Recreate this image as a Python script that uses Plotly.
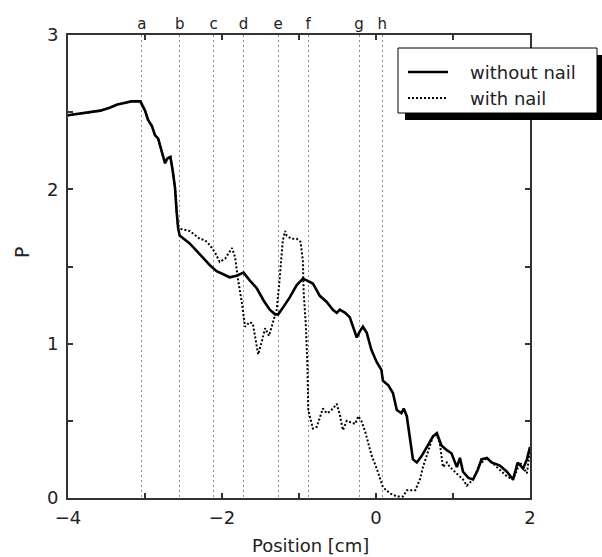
import plotly.graph_objects as go

# ---------------- data ----------------
shared_x = [-4.00, -3.84, -3.71, -3.58, -3.45, -3.36, -3.27, -3.18, -3.10, -3.06,
            -3.00, -2.96, -2.91, -2.87, -2.83, -2.78, -2.74, -2.71, -2.67, -2.64,
            -2.61, -2.59, -2.57]
shared_y = [2.48, 2.49, 2.50, 2.51, 2.53, 2.55, 2.56, 2.57, 2.57, 2.57,
            2.51, 2.45, 2.41, 2.35, 2.33, 2.25, 2.17, 2.20, 2.21, 2.12,
            2.01, 1.86, 1.75]

without_x = [-2.55, -2.42, -2.29, -2.16, -2.07, -1.98, -1.90, -1.81, -1.72, -1.64,
             -1.55, -1.46, -1.38, -1.31, -1.27, -1.20, -1.12, -1.03, -0.95, -0.90,
             -0.82, -0.73, -0.64, -0.56, -0.51, -0.47, -0.40, -0.34, -0.30, -0.25,
             -0.21, -0.17, -0.12, -0.06, 0.01, 0.07, 0.09, 0.16, 0.22, 0.27,
             0.33, 0.36, 0.40, 0.45, 0.48, 0.53, 0.59, 0.66, 0.74, 0.79,
             0.85, 0.92, 0.98, 1.05, 1.09, 1.13, 1.20, 1.26, 1.32, 1.37,
             1.44, 1.50, 1.61, 1.70, 1.78, 1.84, 1.91, 1.96, 2.00]
without_y = [1.70, 1.65, 1.58, 1.51, 1.47, 1.45, 1.43, 1.44, 1.46, 1.41,
             1.36, 1.28, 1.22, 1.19, 1.19, 1.24, 1.30, 1.38, 1.42, 1.41,
             1.39, 1.31, 1.27, 1.22, 1.20, 1.22, 1.20, 1.17, 1.11, 1.04,
             1.08, 1.11, 1.07, 0.96, 0.88, 0.83, 0.76, 0.73, 0.68, 0.57,
             0.55, 0.58, 0.53, 0.36, 0.25, 0.23, 0.27, 0.33, 0.40, 0.42,
             0.34, 0.31, 0.29, 0.20, 0.26, 0.17, 0.13, 0.12, 0.18, 0.25,
             0.26, 0.23, 0.21, 0.17, 0.12, 0.23, 0.19, 0.25, 0.33]

with_x = [-2.55, -2.42, -2.29, -2.22, -2.16, -2.09, -2.03, -1.96, -1.87, -1.83,
          -1.79, -1.74, -1.70, -1.64, -1.60, -1.55, -1.53, -1.48, -1.44, -1.39,
          -1.34, -1.29, -1.26, -1.23, -1.21, -1.18, -1.16, -1.10, -1.03, -0.98,
          -0.95, -0.94, -0.91, -0.89, -0.88, -0.86, -0.82, -0.77, -0.73, -0.69,
          -0.64, -0.60, -0.56, -0.51, -0.47, -0.43, -0.38, -0.32, -0.27, -0.23,
          -0.19, -0.14, -0.10, -0.06, 0.01, 0.05, 0.09, 0.18, 0.27, 0.35,
          0.40, 0.51, 0.57, 0.61, 0.68, 0.74, 0.79, 0.83, 0.87, 0.92,
          0.96, 1.13, 1.18, 1.26, 1.35, 1.44, 1.57, 1.70, 1.78, 1.87,
          1.96, 2.00]
with_y = [1.745, 1.73, 1.68, 1.67, 1.64, 1.59, 1.53, 1.55, 1.62, 1.56,
          1.41, 1.26, 1.11, 1.14, 1.13, 0.98, 0.93, 1.02, 1.10, 1.05,
          1.13, 1.22, 1.37, 1.56, 1.67, 1.73, 1.70, 1.68, 1.68, 1.66,
          1.54, 1.34, 1.11, 0.85, 0.57, 0.53, 0.45, 0.46, 0.52, 0.58,
          0.55, 0.56, 0.58, 0.61, 0.54, 0.44, 0.50, 0.49, 0.48, 0.53,
          0.50, 0.43, 0.36, 0.28, 0.19, 0.13, 0.07, 0.03, 0.01, 0.01,
          0.05, 0.05, 0.12, 0.20, 0.31, 0.40, 0.41, 0.35, 0.20, 0.23,
          0.20, 0.12, 0.08, 0.12, 0.22, 0.26, 0.20, 0.14, 0.12, 0.23,
          0.16, 0.31]

letters = ["a", "b", "c", "d", "e", "f", "g", "h"]
letter_pos = [-3.04, -2.55, -2.11, -1.72, -1.27, -0.88, -0.22, 0.08]

x_ticks = [-4, -3, -2, -1, 0, 1, 2]
x_ticktext = ["\u22124", "", "\u22122", "", "0", "", "2"]
y_ticks = [0, 0.5, 1, 1.5, 2, 2.5, 3]
y_ticktext = ["0", "", "1", "", "2", "", "3"]

series_names = ["without nail", "with nail"]

# ---------------- layout geometry (pixels) ----------------
W, H = 602, 557
L, R, T, B = 68, 530, 35, 498
FONT = "DejaVu Sans"
AX = "#333333"


def px(xp):
    return (xp - L) / (R - L)


def py(yp):
    return (B - yp) / (B - T)


fig = go.Figure()

fig.add_trace(go.Scatter(x=shared_x + with_x, y=shared_y + with_y, mode="lines",
                         line=dict(color="black", width=2, dash="2px,2px"),
                         name=series_names[1], showlegend=False))
fig.add_trace(go.Scatter(x=shared_x + without_x, y=shared_y + without_y, mode="lines",
                         line=dict(color="black", width=2.6),
                         name=series_names[0], showlegend=False))
# carrier for the letter axis
fig.add_trace(go.Scatter(x=letter_pos, y=[None] * len(letter_pos), xaxis="x2",
                         mode="lines", showlegend=False, hoverinfo="skip"))

fig.update_layout(
    width=W, height=H,
    margin=dict(l=L, r=W - R, t=T, b=H - B, pad=0),
    paper_bgcolor="white", plot_bgcolor="white",
    font=dict(family=FONT, size=18, color="#222222"),
    xaxis=dict(range=[-4, 2], tickvals=x_ticks, ticktext=x_ticktext,
               ticks="inside", ticklen=5, tickwidth=1.5, tickcolor=AX,
               showline=True, linecolor=AX, linewidth=2, mirror="ticks",
               showgrid=False, zeroline=False, tickfont=dict(size=18),
               ticklabelstandoff=2),
    xaxis2=dict(range=[-4, 2], overlaying="x", side="top",
                tickvals=letter_pos, ticktext=letters, ticks="",
                showline=False, showgrid=True, gridcolor="#8a8a8a",
                gridwidth=1, griddash="2px,3px", zeroline=False,
                tickfont=dict(size=15), ticklabelstandoff=2),
    yaxis=dict(range=[0, 3], tickvals=y_ticks, ticktext=y_ticktext,
               ticks="inside", ticklen=5, tickwidth=1.5, tickcolor=AX,
               showline=True, linecolor=AX, linewidth=2, mirror="ticks",
               showgrid=False, zeroline=False, tickfont=dict(size=18),
               ticklabelstandoff=4),
)

# axis titles
fig.add_annotation(text="Position [cm]", xref="paper", yref="paper",
                   x=px(310), y=py(545), showarrow=False,
                   font=dict(size=18), xanchor="center", yanchor="middle")
fig.add_annotation(text="P", xref="paper", yref="paper", textangle=-90,
                   x=px(22), y=py(253), showarrow=False,
                   font=dict(size=19), xanchor="center", yanchor="middle")

# legend box with shadow
shapes = [
    dict(type="rect", xref="paper", yref="paper", x0=px(405), x1=px(606),
         y0=py(120), y1=py(55), fillcolor="black", line=dict(width=0), layer="above"),
    dict(type="rect", xref="paper", yref="paper", x0=px(398), x1=px(597),
         y0=py(113), y1=py(48), fillcolor="white",
         line=dict(color="black", width=1), layer="above"),
    dict(type="line", xref="paper", yref="paper", x0=px(408), x1=px(448),
         y0=py(72), y1=py(72), line=dict(color="black", width=2.6), layer="above"),
    dict(type="line", xref="paper", yref="paper", x0=px(408), x1=px(448),
         y0=py(98), y1=py(98), line=dict(color="black", width=2, dash="2px,2px"),
         layer="above"),
]
fig.update_layout(shapes=shapes)
for name, yy in zip(series_names, [72, 98]):
    fig.add_annotation(text=name, xref="paper", yref="paper", x=px(468), y=py(yy),
                       showarrow=False, xanchor="left", yanchor="middle",
                       font=dict(size=18, color="#222222"))

fig.write_html("out.html")
